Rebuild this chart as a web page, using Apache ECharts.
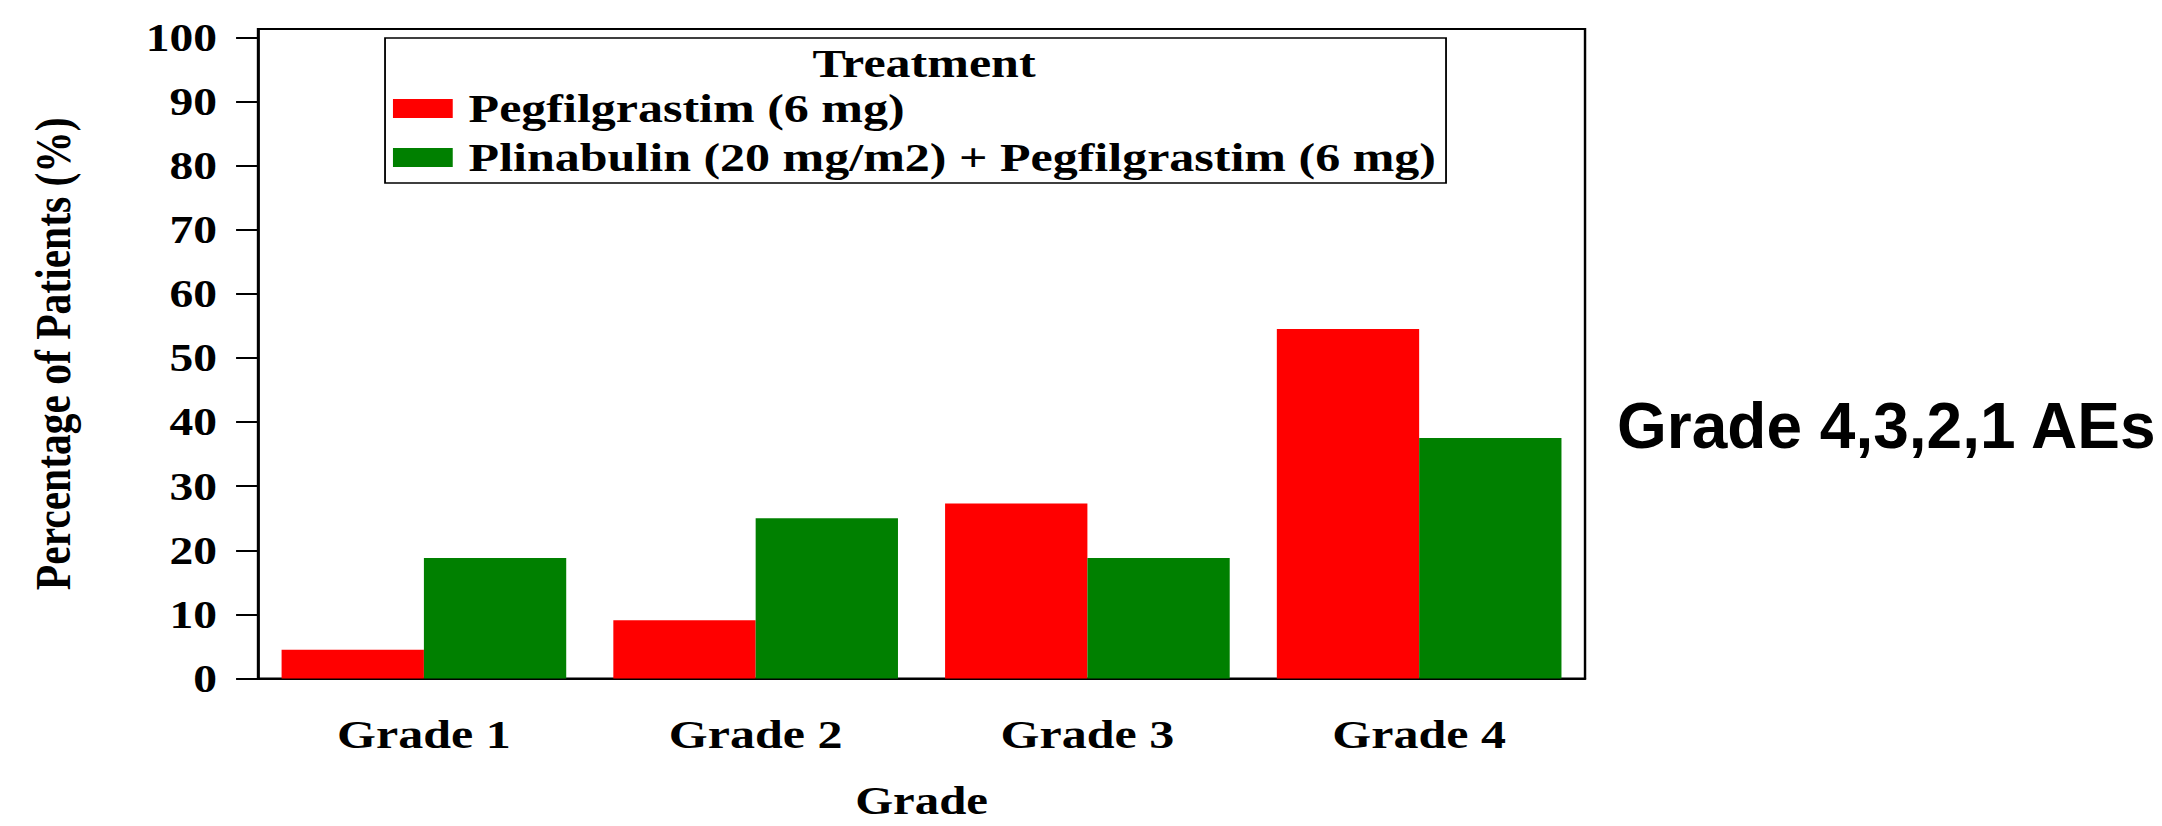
<!DOCTYPE html>
<html>
<head>
<meta charset="utf-8">
<title>Grade 4,3,2,1 AEs</title>
<script src="https://cdn.jsdelivr.net/npm/echarts@6/dist/echarts.min.js"></script>
<style>
  html, body {
    margin: 0;
    padding: 0;
    background: #fff;
    overflow: hidden;
  }
  /* the source figure is stretched sideways, so the chart is too */
  #chart {
    width: 1772px;
    height: 826px;
    transform: scaleX(1.22);
    transform-origin: 0 0;
  }
</style>
</head>
<body>
<div id="chart"></div>
<script>
const grades = ['Grade 1', 'Grade 2', 'Grade 3', 'Grade 4'];
const pegfilgrastim = [4.5, 9.1, 27.3, 54.5];
const plinabulin = [18.8, 25.0, 18.8, 37.5];
const yTicks = [0, 10, 20, 30, 40, 50, 60, 70, 80, 90, 100];
const yMax = 101.3;

const stretch = 1.22;
const serif = '"Liberation Serif", "Times New Roman", serif';

const chart = echarts.init(document.getElementById('chart'), null, { renderer: 'svg' });

chart.setOption({
  animation: false,
  backgroundColor: '#fff',
  color: ['#ff0000', '#008000'],
  grid: {
    left: 211.5,
    right: 472.8,
    top: 29,
    bottom: 147.5,
    show: true,
    borderColor: '#000',
    borderWidth: 2,
    outerBoundsMode: 'none'
  },
  legend: {
    orient: 'vertical',
    left: 315.6,
    top: 38,
    padding: [50, 8, 5, 6.5],
    itemWidth: 49,
    itemHeight: 19,
    itemGap: 8,
    icon: 'rect',
    borderColor: '#000',
    borderWidth: 1.5,
    itemStyle: { borderWidth: 0 },
    textStyle: {
      fontFamily: serif,
      fontWeight: 'bold',
      fontSize: 41,
      lineHeight: 40,
      color: '#000',
      padding: [0, 0, 0, 8]
    },
    data: ['Pegfilgrastim (6 mg)', 'Plinabulin (20 mg/m2) + Pegfilgrastim (6 mg)']
  },
  graphic: [
    {
      type: 'text',
      x: 757.4,
      y: 63.5,
      style: {
        text: 'Treatment',
        fontFamily: serif,
        fontWeight: 'bold',
        fontSize: 41,
        fill: '#000',
        textAlign: 'center',
        textVerticalAlign: 'middle'
      }
    },
    {
      // this label is not stretched in the source, undo the page stretch
      type: 'text',
      x: 1617 / stretch,
      y: 426.5,
      scaleX: 1 / stretch,
      style: {
        text: 'Grade 4,3,2,1 AEs',
        fontFamily: '"Liberation Sans", Arial, sans-serif',
        fontWeight: 'bold',
        fontSize: 64,
        fill: '#000',
        textAlign: 'left',
        textVerticalAlign: 'middle'
      }
    }
  ],
  xAxis: {
    type: 'category',
    data: grades,
    name: 'Grade',
    nameLocation: 'middle',
    nameGap: 104.5,
    nameTextStyle: {
      fontFamily: serif,
      fontWeight: 'bold',
      fontSize: 40,
      lineHeight: 36,
      color: '#000'
    },
    axisLine: { lineStyle: { color: '#000', width: 2 } },
    axisTick: {
      alignWithLabel: true,
      length: 19,
      lineStyle: { color: '#000', width: 2 }
    },
    axisLabel: {
      margin: 35,
      fontFamily: serif,
      fontWeight: 'bold',
      fontSize: 41,
      color: '#000'
    },
    splitLine: { show: false }
  },
  yAxis: {
    type: 'value',
    min: 0,
    max: yMax,
    name: 'Percentage of Patients (%)',
    nameLocation: 'middle',
    nameGap: 147,
    nameTextStyle: {
      fontFamily: serif,
      fontWeight: 'bold',
      fontSize: 41.5,
      color: '#000'
    },
    axisLine: { show: true, lineStyle: { color: '#000', width: 2 } },
    axisTick: {
      show: true,
      length: 18,
      customValues: yTicks,
      lineStyle: { color: '#000', width: 2 }
    },
    axisLabel: {
      margin: 33.6,
      customValues: yTicks,
      fontFamily: serif,
      fontWeight: 'bold',
      fontSize: 39,
      color: '#000'
    },
    splitLine: { show: false }
  },
  series: [
    {
      name: 'Pegfilgrastim (6 mg)',
      type: 'bar',
      data: pegfilgrastim,
      barGap: '0%',
      barCategoryGap: '14.2%'
    },
    {
      name: 'Plinabulin (20 mg/m2) + Pegfilgrastim (6 mg)',
      type: 'bar',
      data: plinabulin,
      barGap: '0%',
      barCategoryGap: '14.2%'
    }
  ]
});
</script>
</body>
</html>
